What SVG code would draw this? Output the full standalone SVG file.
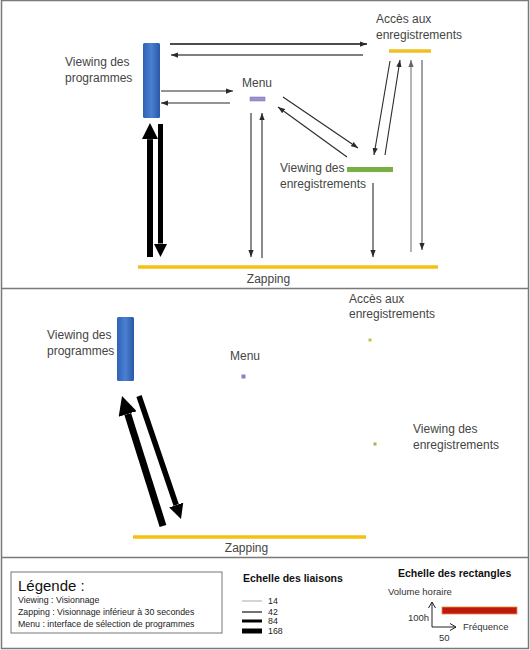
<svg xmlns="http://www.w3.org/2000/svg" width="530" height="650" viewBox="0 0 530 650">
<style>
  .lbl{font-family:"Liberation Sans",Arial,sans-serif;font-size:12px;fill:#454545}
  .sm{font-family:"Liberation Sans",Arial,sans-serif;font-size:8.8px;fill:#222}
  .sc{font-family:"Liberation Sans",Arial,sans-serif;font-size:9.5px;fill:#333}
  .hd{font-family:"Liberation Sans",Arial,sans-serif;font-size:10.5px;font-weight:bold;fill:#111}
  .thin{fill:none;stroke:#2a2a2a;stroke-width:1.1;marker-end:url(#ah)}
  .thinl{fill:none;stroke:#777;stroke-width:1.1;marker-end:url(#ahl)}
  .thick{fill:none;stroke:#000;marker-end:url(#ahb)}
  .frame{fill:none;stroke:#7a7a7a;stroke-width:1.5}
  .zap{stroke:#f5c010;stroke-width:3.5}
</style>
<defs>
  <marker id="ah" viewBox="0 0 8 6" refX="8" refY="3" markerWidth="7" markerHeight="5.5" markerUnits="userSpaceOnUse" orient="auto">
    <path d="M0,0 L8,3 L0,6 z" fill="#2a2a2a"/>
  </marker>
  <marker id="ahl" viewBox="0 0 8 6" refX="8" refY="3" markerWidth="7" markerHeight="5.5" markerUnits="userSpaceOnUse" orient="auto">
    <path d="M0,0 L8,3 L0,6 z" fill="#666"/>
  </marker>
  <marker id="ahb" viewBox="0 0 10 10" refX="0" refY="5" markerWidth="2.7" markerHeight="2.7" orient="auto">
    <path d="M0,0 L10,5 L0,10 z" fill="#000"/>
  </marker>
  <marker id="aho" viewBox="0 0 8 8" refX="7" refY="4" markerWidth="8" markerHeight="8" markerUnits="userSpaceOnUse" orient="auto">
    <path d="M1,0.5 L7,4 L1,7.5" fill="none" stroke="#222" stroke-width="1"/>
  </marker>
  <linearGradient id="blue" x1="0" y1="0" x2="1" y2="0">
    <stop offset="0" stop-color="#2f62b5"/>
    <stop offset="0.5" stop-color="#4a80d2"/>
    <stop offset="1" stop-color="#2a58a6"/>
  </linearGradient>
</defs>

<rect width="530" height="650" fill="#fff"/>
<g id="frames">
  <rect class="frame" x="1.5" y="0.5" width="527" height="648"/>
  <line class="frame" x1="1.5" y1="288.5" x2="528.5" y2="288.5"/>
  <line class="frame" x1="1.5" y1="557.5" x2="528.5" y2="557.5"/>
</g>

<!-- ===== Top panel ===== -->
<g id="connectors-top">
  <line class="thin" x1="170" y1="44" x2="367" y2="44" style="stroke:#111;stroke-width:1.5"/>
  <line class="thin" x1="363" y1="55" x2="171" y2="55" style="stroke:#555;stroke-width:1.3"/>
  <line class="thin" x1="161" y1="91" x2="233" y2="91"/>
  <line class="thin" x1="230" y1="103" x2="161" y2="103"/>
  <line class="thin" x1="251" y1="113" x2="251" y2="257"/>
  <line class="thin" x1="262" y1="258" x2="262" y2="113"/>
  <line class="thin" x1="283" y1="97" x2="358" y2="148"/>
  <line class="thin" x1="347" y1="157" x2="278" y2="107"/>
  <line class="thin" x1="390" y1="61" x2="374" y2="155"/>
  <line class="thin" x1="385" y1="155" x2="400" y2="60"/>
  <line class="thinl" x1="411" y1="252" x2="411" y2="60"/>
  <line class="thin" x1="422" y1="60" x2="422" y2="250" style="stroke:#555"/>
  <line class="thin" x1="373" y1="183" x2="373" y2="257"/>
  <line class="thick" x1="150" y1="257" x2="150" y2="139.2" stroke-width="6"/>
  <line class="thick" x1="160.5" y1="124" x2="160.5" y2="243.5" stroke-width="5"/>
</g>

<g id="node-viewing-programmes-top">
  <rect x="143" y="43" width="17" height="75" rx="1.5" fill="url(#blue)"/>
  <text class="lbl" x="65" y="66">Viewing des</text>
  <text class="lbl" x="65" y="82">programmes</text>
</g>
<g id="node-menu-top">
  <rect x="250" y="97" width="15" height="4" fill="#a090d0" stroke="#7a6cb0" stroke-width="0.5"/>
  <text class="lbl" x="242" y="87">Menu</text>
</g>
<g id="node-acces-top">
  <line x1="389" y1="51" x2="431" y2="51" stroke="#f0c020" stroke-width="3.5"/>
  <text class="lbl" x="376" y="23">Accès aux</text>
  <text class="lbl" x="376" y="39">enregistrements</text>
</g>
<g id="node-viewing-enreg-top">
  <rect x="347" y="167" width="46" height="5" fill="#78b043"/>
  <text class="lbl" x="280" y="172">Viewing des</text>
  <text class="lbl" x="280" y="188">enregistrements</text>
</g>
<g id="node-zapping-top">
  <line class="zap" x1="138" y1="267" x2="438" y2="267"/>
  <text class="lbl" x="268.5" y="283" text-anchor="middle">Zapping</text>
</g>

<!-- ===== Middle panel ===== -->
<g id="connectors-middle">
  <line class="thick" x1="163" y1="526" x2="127.7" y2="414" stroke-width="7"/>
  <line class="thick" x1="139" y1="396" x2="176.2" y2="505" stroke-width="5.5"/>
</g>
<g id="node-viewing-programmes-mid">
  <rect x="117" y="317" width="17" height="64" rx="1.5" fill="url(#blue)"/>
  <text class="lbl" x="47" y="339">Viewing des</text>
  <text class="lbl" x="47" y="355">programmes</text>
</g>
<g id="node-menu-mid">
  <rect x="241.5" y="374.5" width="4" height="4" fill="#8a80c4"/>
  <text class="lbl" x="230" y="360">Menu</text>
</g>
<g id="node-acces-mid">
  <rect x="368.5" y="338.5" width="3" height="3" fill="#c8c050"/>
  <text class="lbl" x="349" y="303">Accès aux</text>
  <text class="lbl" x="349" y="318">enregistrements</text>
</g>
<g id="node-viewing-enreg-mid">
  <rect x="373.5" y="442.5" width="3" height="3" fill="#a0b850"/>
  <text class="lbl" x="413" y="433">Viewing des</text>
  <text class="lbl" x="413" y="449">enregistrements</text>
</g>
<g id="node-zapping-mid">
  <line class="zap" x1="133" y1="537" x2="366" y2="537"/>
  <text class="lbl" x="246.5" y="552" text-anchor="middle">Zapping</text>
</g>

<!-- ===== Legend panel ===== -->
<g id="legende">
  <rect x="11" y="572" width="211" height="61" fill="#fff" stroke="#777" stroke-width="1"/>
  <text x="18" y="591" style="font-family:'Liberation Sans',Arial,sans-serif;font-size:15px;fill:#111">Légende :</text>
  <text class="sm" x="18" y="603">Viewing : Visionnage</text>
  <text class="sm" x="18" y="615">Zapping : Visionnage inférieur à 30 secondes</text>
  <text class="sm" x="18" y="627">Menu : interface de sélection de programmes</text>
</g>
<g id="echelle-liaisons">
  <text class="hd" x="243" y="582">Echelle des liaisons</text>
  <line x1="242" y1="601" x2="262" y2="601" stroke="#aaa" stroke-width="1"/>
  <line x1="242" y1="612" x2="262" y2="612" stroke="#444" stroke-width="1.5"/>
  <line x1="242" y1="621" x2="262" y2="621" stroke="#000" stroke-width="3"/>
  <line x1="242" y1="631" x2="262" y2="631" stroke="#000" stroke-width="5"/>
  <text class="sm" x="268" y="604">14</text>
  <text class="sm" x="268" y="615">42</text>
  <text class="sm" x="268" y="624">84</text>
  <text class="sm" x="268" y="634">168</text>
</g>
<g id="echelle-rectangles">
  <text class="hd" x="398" y="577">Echelle des rectangles</text>
  <text class="sc" x="388" y="595">Volume horaire</text>
  <line x1="432" y1="627" x2="432" y2="602" stroke="#222" stroke-width="1" marker-end="url(#aho)"/>
  <line x1="432" y1="627" x2="456" y2="627" stroke="#222" stroke-width="1" marker-end="url(#aho)"/>
  <text class="sc" x="408" y="621">100h</text>
  <text class="sc" x="463" y="630">Fréquence</text>
  <text class="sc" x="439" y="641">50</text>
  <rect x="442" y="607" width="75" height="7" fill="#c0180c" stroke="#e09040" stroke-width="0.8"/>
</g>
</svg>
